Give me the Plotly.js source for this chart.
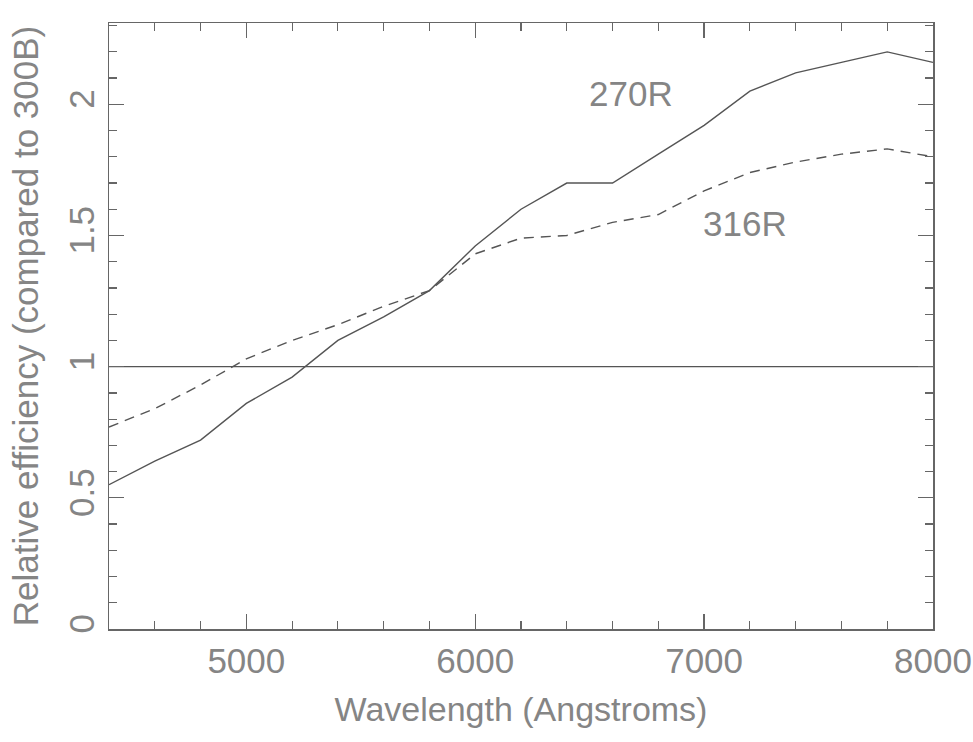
<!DOCTYPE html>
<html>
<head>
<meta charset="utf-8">
<script src="https://cdn.plot.ly/plotly-3.0.1.min.js"></script>
<style>html,body{margin:0;padding:0;background:#fff;}#chart{width:973px;height:742px;}</style>
</head>
<body>
<div id="chart"></div>
<script>
// Wavelength grid (Angstroms)
const wavelength = [4400, 4600, 4800, 5000, 5200, 5400, 5600, 5800, 6000, 6200, 6400, 6600, 6800, 7000, 7200, 7400, 7600, 7800, 8000];
// Relative efficiency of the 270R grating (solid line)
const eff270R = [0.55, 0.64, 0.72, 0.86, 0.96, 1.10, 1.19, 1.29, 1.46, 1.60, 1.70, 1.70, 1.81, 1.92, 2.05, 2.12, 2.16, 2.20, 2.16];
// Relative efficiency of the 316R grating (dashed line)
const eff316R = [0.77, 0.84, 0.93, 1.03, 1.10, 1.16, 1.23, 1.29, 1.43, 1.49, 1.50, 1.55, 1.58, 1.67, 1.74, 1.78, 1.81, 1.83, 1.80];
// Reference level (300B)
const refX = [4400, 8000];
const refY = [1, 1];
// Labels
const seriesNames = ["270R", "316R"];
const labelX = [6680, 7180];
const labelY = [2.04, 1.545];
const xTicks = [5000, 6000, 7000, 8000];
const yTicks = [0, 0.5, 1, 1.5, 2];

const lineColor = "#555";
const textColor = "#858585";
const font = "Liberation Sans, Arial, sans-serif";

const traces = [
  {x: wavelength, y: eff270R, name: seriesNames[0], mode: "lines", line: {color: lineColor, width: 1.4}},
  {x: wavelength, y: eff316R, name: seriesNames[1], mode: "lines", line: {color: lineColor, width: 1.4, dash: "10px,7px"}},
  {x: refX, y: refY, name: "300B", mode: "lines", line: {color: lineColor, width: 1.4}}
];

const axisCommon = {
  showgrid: false, zeroline: false, showline: true, linecolor: "#666", linewidth: 1.5,
  mirror: "ticks", ticks: "inside", ticklen: 15, tickwidth: 1.3, tickcolor: "#666",
  tickfont: {family: font, size: 35, color: textColor}
};

const layout = {
  width: 973, height: 742,
  margin: {l: 109, r: 40, t: 23, b: 113},
  paper_bgcolor: "#fff", plot_bgcolor: "#fff",
  showlegend: false,
  xaxis: Object.assign({}, axisCommon, {
    range: [4400, 8000], tickvals: xTicks, ticktext: xTicks.map(String),
    minor: {dtick: 200, tick0: 0, ticks: "inside", ticklen: 8, tickcolor: "#666", tickwidth: 1.2},
    title: {text: "Wavelength (Angstroms)", font: {family: font, size: 34, color: textColor}, standoff: 18}
  }),
  yaxis: Object.assign({}, axisCommon, {
    range: [0, 2.31], tickvals: yTicks, ticktext: yTicks.map(String), tickangle: -90,
    minor: {dtick: 0.1, tick0: 0, ticks: "inside", ticklen: 8, tickcolor: "#666", tickwidth: 1.2},
    title: {text: "Relative efficiency (compared to 300B)", font: {family: font, size: 35, color: textColor}, standoff: 12}
  }),
  annotations: seriesNames.map((n, i) => ({
    x: labelX[i], y: labelY[i], xref: "x", yref: "y", text: n, showarrow: false,
    font: {family: font, size: 35, color: textColor}
  }))
};

Plotly.newPlot("chart", traces, layout, {staticPlot: true, displayModeBar: false});
</script>
</body>
</html>
